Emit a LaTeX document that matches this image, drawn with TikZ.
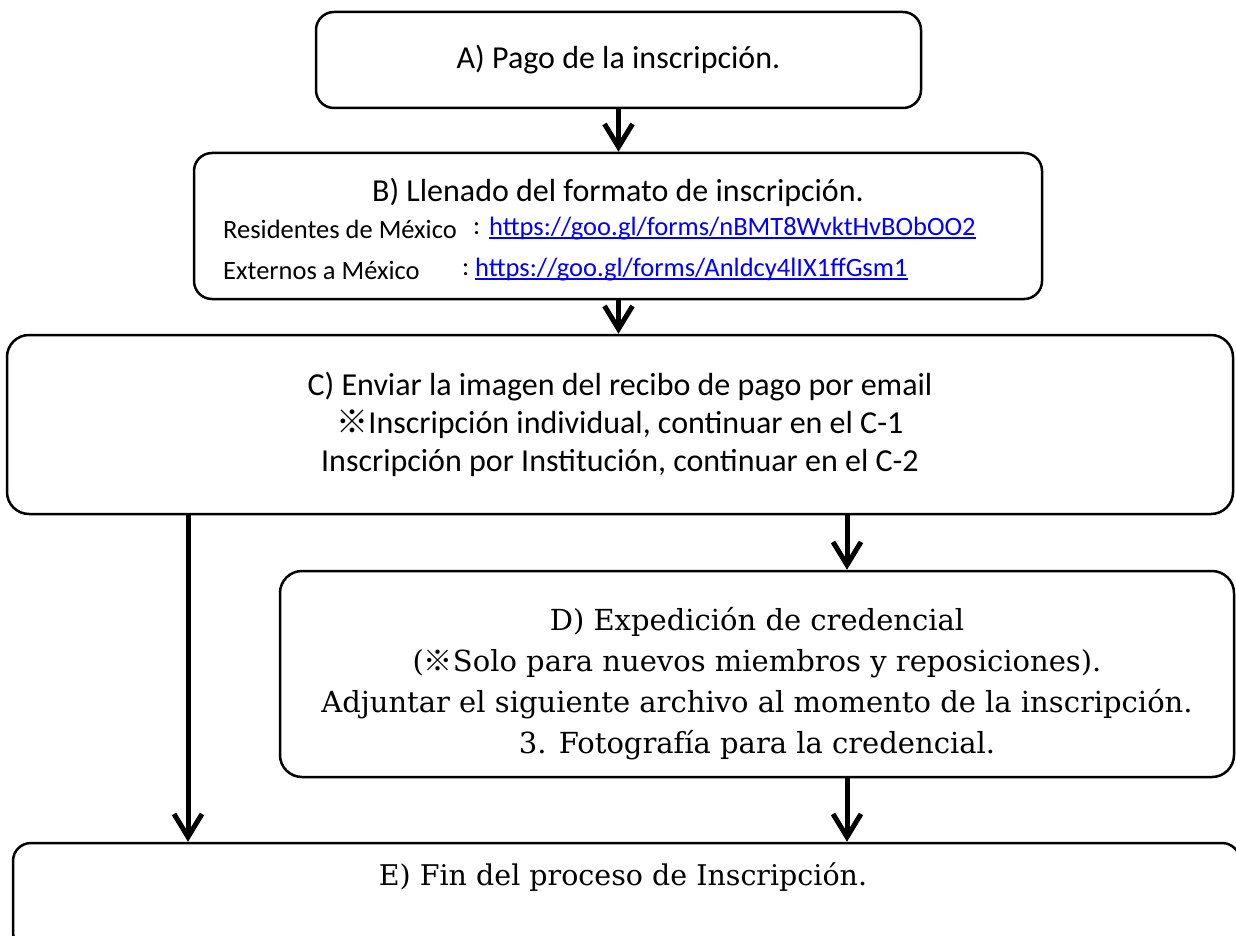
\documentclass[tikz,border=0pt]{standalone}
\usepackage{fontspec}
\newfontfamily\calfont{Carlito}
\newfontfamily\jpfont{Noto Sans CJK JP}
\newfontfamily\serfont{DejaVu Serif}
\usetikzlibrary{arrows.meta}
\definecolor{linkblue}{RGB}{0,0,255}
\newsavebox{\lnkbox}
\newcommand{\lnk}[1]{{\color{linkblue}\sbox{\lnkbox}{#1}\rlap{\rule[-3pt]{\wd\lnkbox}{1.6pt}}\usebox{\lnkbox}}}
\begin{document}
\begin{tikzpicture}[x=1pt,y=-1pt,
  box/.style={draw, line width=2.5pt, rounded corners=18pt, inner sep=0pt},
  arr/.style={line width=5pt, -{Straight Barb[length=23pt,width=28pt]}},
  calbig/.style={font=\calfont\fontsize{32}{38}\selectfont, align=center},
  calsmall/.style={font=\calfont\fontsize{26.5}{30}\selectfont, anchor=west, inner sep=0pt},
  serif/.style={font=\serfont\fontsize{29}{41}\selectfont, align=center}
]
\useasboundingbox (0,0) rectangle (1236,936);
% boxes
\node[box, calbig, minimum width=605pt, minimum height=96pt] (A) at (618.5,60) {A) Pago de la inscripción.};
\node[box, minimum width=848pt, minimum height=146pt] (B) at (618,226) {};
\node[calbig] (Bt) at (618,192) {B) Llenado del formato de inscripción.};
\node[calsmall] (B1) at (223,229) {Residentes de México};
\node[calsmall] (B1c) at (473,229) {:};
\node[calsmall] (B1u) at (489,229) {\lnk{https://goo.gl/forms/nBMT8WvktHvBObOO2}};
\node[calsmall] (B2) at (223,270) {Externos a México};
\node[calsmall] (B2c) at (462,270) {:};
\node[calsmall] (B2u) at (475,270) {\lnk{https://goo.gl/forms/Anldcy4lIX1ffGsm1}};
\node[box, rounded corners=22pt, calbig, minimum width=1226pt, minimum height=179pt] (C) at (620,424.5)
  {C) Enviar la imagen del recibo de pago por email\\{\jpfont ※}Inscripción individual, continuar en el C-1\\Inscripción por Institución, continuar en el C-2};
\node[box, rounded corners=22pt, minimum width=954pt, minimum height=206pt] (D) at (757,674) {};
\node[serif] (Dt) at (757,683.5) {D) Expedición de credencial\\({\jpfont ※}Solo para nuevos miembros y reposiciones).\\Adjuntar el siguiente archivo al momento de la inscripción.\\3. Fotografía para la credencial.};
\node[box, minimum width=1227pt, minimum height=107pt] (E) at (626.5,896.5) {};
\node[serif, font=\serfont\fontsize{28.5}{41}\selectfont] (Et) at (623,877) {E) Fin del proceso de Inscripción.};
% connectors
\coordinate (L) at (188,0);
\coordinate (R) at (847,0);
\draw[arr] (A.south) -- (A.south |- B.north);
\draw[arr] (A.south |- B.south) -- (A.south |- C.north);
\draw[arr] (L |- C.south) -- (L |- E.north);
\draw[arr] (R |- C.south) -- (R |- D.north);
\draw[arr] (R |- D.south) -- (R |- E.north);
\end{tikzpicture}
\end{document}
